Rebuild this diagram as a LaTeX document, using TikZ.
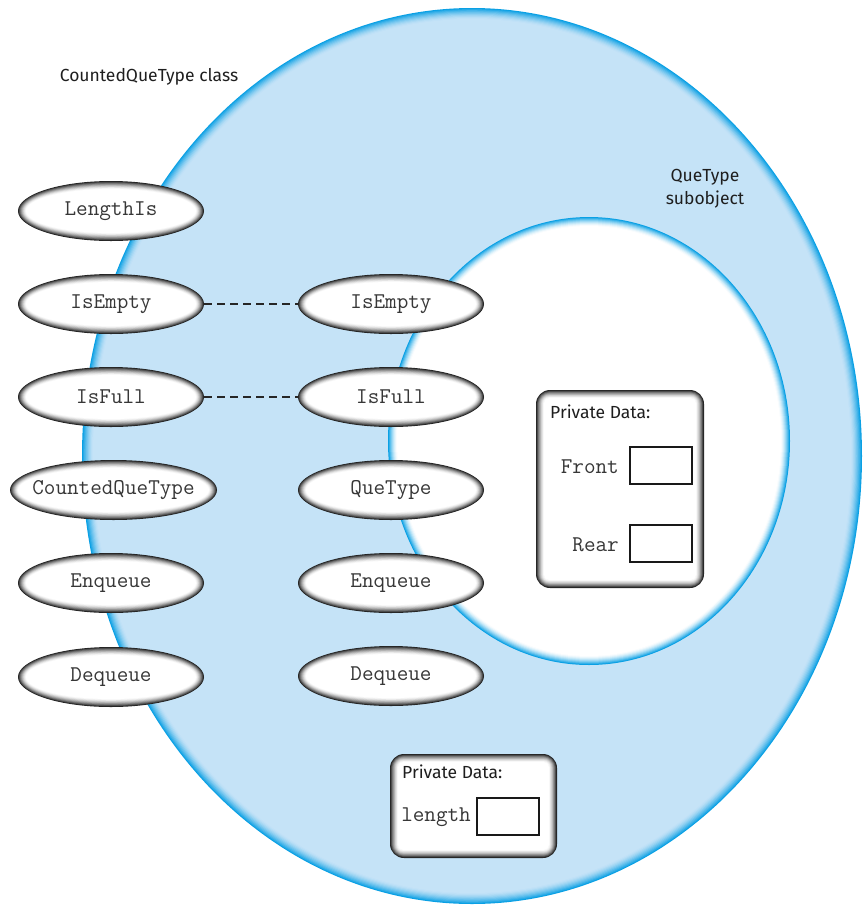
\documentclass[tikz,border=0pt]{standalone}
\usepackage{fontspec}
\setmainfont{Fira Sans}
\usetikzlibrary{shapes.geometric}
\definecolor{lightblue}{RGB}{197,227,247}
\definecolor{rimblue}{RGB}{10,160,228}
\definecolor{rimgray}{RGB}{35,35,35}
\definecolor{monogray}{RGB}{55,55,55}
\definecolor{textdark}{RGB}{30,30,30}
\newcommand\ringell[8]{%
  \fill[#5] (#1,#2) ellipse[x radius=#3 pt, y radius=#4 pt];
  \foreach \k in {1,...,#7}{%
    \pgfmathsetmacro\mix{100*(1-\k/#7)^1.6}%
    \pgfmathsetmacro\dd{\k*#8/#7}%
    \fill[#5!\mix!#6] (#1,#2) ellipse[x radius={(#3-\dd)*1pt}, y radius={(#4-\dd)*1pt}];
  }%
}
\newcommand\ringbox[4]{%
  \foreach \k in {0,...,9}{%
    \pgfmathsetmacro\mix{100*(1-\k/9)^1.6}%
    \pgfmathsetmacro\rr{14-\k}%
    \fill[rimgray!\mix!white, rounded corners=\rr pt] ({#1+\k*0.9},{#2+\k*0.9}) rectangle ({#3-\k*0.9},{#4-\k*0.9});
  }%
}
\newcommand\opell[5]{%
  \ringell{#2}{#3}{#4}{30}{rimgray}{white}{9}{8}
  \node[opnode, minimum width=2*#4 pt] (#1) at (#2,#3) {#5};
}
\tikzset{
  opnode/.style={ellipse, inner sep=0pt, minimum height=60pt, font=\ttfamily\fontsize{22.5}{24}\selectfont, text=monogray},
  sanslabel/.style={font=\fontsize{17.5}{23}\selectfont, text=textdark, inner sep=0pt},
  monolabel/.style={font=\ttfamily\fontsize{22.5}{24}\selectfont, text=monogray, inner sep=0pt},
  slot/.style={draw=black!90, line width=2pt, fill=white, minimum width=62pt, minimum height=37pt, inner sep=0pt},
  link/.style={line width=1.1pt, dash pattern=on 8pt off 5pt, draw=black!85}
}
\begin{document}
\begin{tikzpicture}[x=1pt,y=-1pt]
\useasboundingbox (0,0) rectangle (864,906);
% outer class ellipse
\ringell{472}{456}{390}{448}{rimblue}{lightblue}{10}{11}
\node[ellipse, minimum width=780pt, minimum height=896pt, inner sep=0pt] (cls) at (472,456) {};
% inner subobject ellipse
\ringell{589}{441}{201}{224}{rimblue}{white}{9}{9}
\node[ellipse, minimum width=402pt, minimum height=448pt, inner sep=0pt] (sub) at (589,441) {};
% labels
\node[sanslabel] (clsname) at (149,77) {CountedQueType class};
\node[sanslabel, align=center] (subname) at (705,189) {QueType\\subobject};
% private data box 1
\ringbox{536}{390}{704}{588}
\node[inner sep=0pt, minimum width=168pt, minimum height=198pt] (pd1) at (620,489) {};
\node[sanslabel, anchor=west] (pd1t) at (550,412) {Private Data:};
\node[slot] (frontbox) at (661,465) {};
\node[slot] (rearbox) at (661,543) {};
\node[monolabel, anchor=east] (front) at (619,467) {Front};
\node[monolabel, anchor=east] (rear) at (619,545) {Rear};
% private data box 2
\ringbox{390}{754}{557}{858}
\node[inner sep=0pt, minimum width=167pt, minimum height=104pt] (pd2) at (473,806) {};
\node[sanslabel, anchor=west] (pd2t) at (402,772) {Private Data:};
\node[slot] (lenbox) at (508,816) {};
\node[monolabel, anchor=east] (len) at (471,817) {length};
% operations, left column
\opell{lLengthIs}{111}{211}{93}{LengthIs}
\opell{lIsEmpty}{111}{304}{93}{IsEmpty}
\opell{lIsFull}{111}{397}{93}{IsFull}
\opell{lCtor}{113.5}{490}{103.5}{CountedQueType}
\opell{lEnqueue}{111}{583}{93}{Enqueue}
\opell{lDequeue}{111}{677}{93}{Dequeue}
% operations, right column
\opell{rIsEmpty}{391}{304}{93}{IsEmpty}
\opell{rIsFull}{391}{397}{93}{IsFull}
\opell{rCtor}{391}{490}{93}{QueType}
\opell{rEnqueue}{391}{583}{93}{Enqueue}
\opell{rDequeue}{391}{676}{93}{Dequeue}
% links
\draw[link] (lIsEmpty.east) -- (rIsEmpty.west);
\draw[link] (lIsFull.east) -- (rIsFull.west);
\end{tikzpicture}
\end{document}
